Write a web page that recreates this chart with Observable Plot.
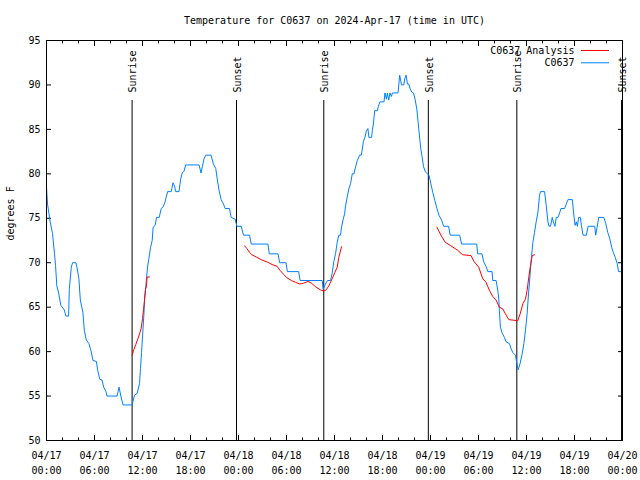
<!DOCTYPE html>
<html><head><meta charset="utf-8">
<script src="https://cdn.jsdelivr.net/npm/d3@7"></script>
<script src="https://cdn.jsdelivr.net/npm/@observablehq/plot@0.6"></script>
<style>body{margin:0;background:#fff} svg{display:block}</style>
</head><body><div id="chart"></div>
<script>
const chartTitle = "Temperature for C0637 on 2024-Apr-17 (time in UTC)";
const yLabel = "degrees F";
const startUTC = "2024-04-17T00:00:00Z";
const endUTC = "2024-04-20T00:00:00Z";
const yTicks = [50, 55, 60, 65, 70, 75, 80, 85, 90, 95];
const seriesNames = ["C0637 Analysis", "C0637"];
const seriesColors = ["#ff0000", "#0080ff"];
const sunHours = [10.7, 23.75, 34.66, 47.73, 58.79, 71.88];
const sunLabels = ["Sunrise", "Sunset", "Sunrise", "Sunset", "Sunrise", "Sunset"];

// observed temperature: [hours since 04/17 00:00 UTC, degrees F]
const observed = [[0,78.5],[0.13,76.6],[0.46,74.6],[0.75,73.3],[1.0,71],[1.13,69.7],[1.29,67.4],[1.54,66.5],[1.79,65.2],[2.22,64.7],[2.42,64],[2.76,64],[2.85,67],[3.1,69.5],[3.26,70],[3.68,70],[3.8,69.5],[4.05,68.2],[4.23,65.8],[4.55,64.4],[4.73,62.4],[4.98,61.3],[5.31,60.9],[5.56,60.1],[5.81,59],[6.23,58.9],[6.4,57.9],[6.65,56.9],[6.94,56.8],[7.15,56],[7.44,55.5],[7.56,55],[8.82,55],[9.07,56],[9.32,54.9],[9.57,54],[10.7,54],[11.0,55.1],[11.33,55.3],[11.63,56.4],[11.75,58.1],[11.88,59.9],[12.04,62.2],[12.17,64.1],[12.26,65.9],[12.46,67.8],[12.63,69.5],[12.79,70.4],[13.0,71.7],[13.21,72.5],[13.33,74],[13.58,74.2],[13.76,75.1],[14.09,75.1],[14.34,76.1],[14.59,76.3],[14.8,76.8],[14.97,77.4],[15.14,78],[15.59,78],[15.81,79],[16.02,78.6],[16.14,78],[16.56,78],[16.77,79.4],[16.97,80.1],[17.19,80.3],[17.4,81],[19.07,81],[19.32,80.1],[19.48,80.8],[19.69,81.7],[19.91,82.1],[20.57,82.1],[20.86,81.1],[21.16,80.6],[21.36,79.3],[21.58,78.1],[21.83,77.1],[22.12,76.6],[22.33,76.1],[22.87,76.1],[23.08,75.1],[23.58,74.9],[23.8,74.1],[24.34,74.1],[24.62,73.1],[25.38,73.1],[25.59,72.1],[27.68,72.1],[27.85,71],[28.94,71],[29.14,70],[29.94,70],[30.11,69],[31.52,69],[31.7,68],[34.46,68],[34.58,67],[34.87,67.6],[35.12,68],[35.5,68],[35.71,68.8],[35.91,70.1],[36.13,71],[36.34,72.3],[36.54,73.1],[36.75,73.1],[36.88,74],[37.09,74.9],[37.26,75.5],[37.38,76.4],[37.59,77.4],[37.79,78.3],[38.01,78.9],[38.22,80],[38.42,80],[38.63,80.75],[38.85,81.5],[39.14,82.1],[39.35,82.1],[39.48,82.8],[39.6,83.6],[39.8,84.1],[39.98,84.8],[40.18,85.1],[40.3,84.1],[40.64,84.1],[40.73,84.9],[40.86,85.6],[41.02,87.1],[41.36,87.1],[41.48,87.6],[41.68,88.1],[42.19,88.1],[42.31,89.1],[42.49,88.4],[42.61,89.1],[42.77,88.3],[42.94,89.1],[43.11,88.7],[43.24,89.1],[43.94,89.1],[44.15,91.1],[44.37,90],[44.66,90],[44.78,90.7],[44.95,91.1],[45.12,90.1],[45.28,90.1],[45.45,89.6],[45.66,89.2],[45.87,89.1],[46.07,88.4],[46.29,87.3],[46.45,85.8],[46.57,84.7],[46.79,82.8],[46.95,81.9],[47.13,80.8],[47.38,80.2],[47.63,80],[47.83,79.8],[48.04,78.9],[48.29,77.9],[48.54,77],[48.8,76.1],[49.08,75.3],[49.39,74.8],[49.64,74.1],[50.26,74.1],[50.46,73.1],[51.64,73.1],[51.89,72.1],[53.78,72.1],[53.9,71],[54.44,71],[54.65,70.1],[54.94,69.6],[55.16,69],[55.7,69],[55.78,68],[56.2,68],[56.41,66.9],[56.54,65.9],[56.61,64.6],[56.74,62.75],[56.95,62.1],[57.24,61.6],[57.45,61.1],[57.87,60.9],[58.08,60.3],[58.29,59.9],[58.62,59.6],[58.79,58.7],[58.96,57.95],[59.21,58.7],[59.46,59.75],[59.67,60.9],[59.87,62.4],[60.08,64.25],[60.25,66.5],[60.46,68.75],[60.62,70.6],[60.8,72.3],[61.0,73.4],[61.21,74.6],[61.43,75.7],[61.63,77.6],[61.75,78],[62.26,78],[62.47,76.4],[62.68,74.6],[62.81,74.1],[63.0,74.1],[63.22,75.1],[63.38,74.5],[63.56,74.1],[63.72,75.1],[63.94,75.1],[64.14,75.6],[64.31,76.1],[64.76,76.1],[64.98,76.6],[65.19,77.1],[65.73,77.1],[65.89,75.6],[66.07,74.2],[66.23,74.6],[66.36,74.1],[66.52,75.1],[66.73,75.1],[66.86,74.2],[67.07,73.1],[67.49,73.1],[67.7,74.1],[68.53,74.1],[68.65,73.1],[68.83,74],[69.03,75.1],[69.66,75.1],[69.91,74.4],[70.16,73.4],[70.41,72.7],[70.66,71.7],[70.84,71.2],[71.09,70.6],[71.34,69.9],[71.5,69],[71.75,69]];

// analysis runs: [hours, degrees F]
const analysisRun1 = [[10.7,59.6],[10.91,60.2],[11.16,60.8],[11.41,61.4],[11.67,62.1],[11.83,62.6],[12.0,63.7],[12.13,64.7],[12.26,65.9],[12.38,67.0],[12.5,67.4],[12.58,68.4],[12.88,68.4]];
const analysisRun2 = [[24.75,71.9],[25.05,71.6],[25.34,71.2],[25.68,70.9],[26.3,70.6],[26.93,70.3],[27.56,70.1],[28.19,69.8],[28.81,69.6],[29.23,69.1],[29.64,68.7],[30.07,68.3],[30.61,68.0],[31.11,67.8],[31.65,67.6],[32.15,67.7],[32.7,67.9],[33.12,67.7],[33.62,67.3],[34.24,66.95],[34.66,66.8],[34.96,66.95],[35.29,67.4],[35.71,68.2],[36.04,68.9],[36.34,69.5],[36.54,70.6],[36.88,71.8]];
const analysisRun3 = [[48.8,74.0],[49.3,73.1],[49.84,72.3],[50.55,71.9],[51.39,71.4],[52.02,70.9],[53.06,70.8],[53.47,70.1],[54.03,69.5],[54.53,68.2],[54.94,67.8],[55.36,66.9],[55.78,66.2],[56.2,65.8],[56.61,65.0],[57.04,64.8],[57.36,64.25],[57.79,63.6],[58.71,63.5],[58.92,63.5],[59.21,64.25],[59.55,65.4],[59.87,65.9],[60.08,66.9],[60.29,68.4],[60.5,69.7],[60.71,70.8],[61.0,70.9]];

const t0 = Date.parse(startUTC);
const t1 = Date.parse(endUTC);
const toDate = h => new Date(t0 + h * 3600e3);
const yMin = yTicks[0], yMax = yTicks[yTicks.length - 1];
const sunLineTop = yMin + 0.85 * (yMax - yMin);
const sunLabelAt = yMin + 0.87 * (yMax - yMin);

const majorTicks = d3.utcHour.every(6).range(new Date(t0), new Date(t1 + 1));
const minorTicks = d3.utcHour.every(2).range(new Date(t0), new Date(t1 + 1)).filter(d => d.getUTCHours() % 6 !== 0);
const fmt = d3.utcFormat("%m/%d\n%H:%M");
const blank = () => "";

const analysisRuns = [analysisRun1, analysisRun2, analysisRun3];

const marks = [
  Plot.axisX(majorTicks, {anchor: "bottom", tickSize: -5, tickFormat: blank}),
  Plot.axisX(minorTicks, {anchor: "bottom", tickSize: -2.5, tickFormat: blank}),
  Plot.axisX(majorTicks, {anchor: "top", tickSize: -5, tickFormat: blank}),
  Plot.axisX(minorTicks, {anchor: "top", tickSize: -2.5, tickFormat: blank}),
  Plot.axisX(majorTicks, {anchor: "bottom", tickSize: 0, tickPadding: 8, tickFormat: fmt, lineHeight: 1.5}),
  Plot.axisY(yTicks, {anchor: "left", tickSize: -5, tickFormat: blank}),
  Plot.axisY(yTicks, {anchor: "right", tickSize: -5, tickFormat: blank}),
  Plot.axisY(yTicks, {anchor: "left", tickSize: 0, tickPadding: 6}),
  Plot.ruleX(sunHours, {x: h => toDate(h), y1: yMin, y2: sunLineTop, stroke: "black"}),
  Plot.text(sunHours, {x: h => toDate(h), y: sunLabelAt, text: (d, i) => sunLabels[i], rotate: -90, textAnchor: "start", lineAnchor: "middle", dx: 1}),
  Plot.line(observed, {x: d => toDate(d[0]), y: d => d[1], stroke: seriesColors[1], strokeWidth: 1}),
  ...analysisRuns.map(run => Plot.line(run, {x: d => toDate(d[0]), y: d => d[1], stroke: seriesColors[0], strokeWidth: 1})),
  Plot.frame({stroke: "black"}),
  Plot.text([chartTitle], {frameAnchor: "top", dy: -20, lineAnchor: "middle"}),
  Plot.text([yLabel], {frameAnchor: "left", dx: -36, rotate: -90, lineAnchor: "middle"}),
  ...seriesNames.flatMap((name, i) => [
    Plot.text([name], {frameAnchor: "top-right", dx: -48, dy: 10 + 12.3 * i, textAnchor: "end", lineAnchor: "middle"}),
    Plot.ruleY([yMax], {insetLeft: 535, insetRight: 13, dy: 10 + 12.3 * i, stroke: seriesColors[i], strokeWidth: 1})
  ])
];

const chart = Plot.plot({
  width: 640, height: 480,
  marginTop: 40, marginBottom: 40, marginLeft: 46, marginRight: 18,
  style: {fontFamily: "'DejaVu Sans Mono', monospace", fontSize: "10px", background: "white", color: "black"},
  x: {type: "utc", domain: [new Date(t0), new Date(t1)]},
  y: {domain: [yMin, yMax]},
  marks
});
document.getElementById("chart").appendChild(chart);
</script>
</body></html>
